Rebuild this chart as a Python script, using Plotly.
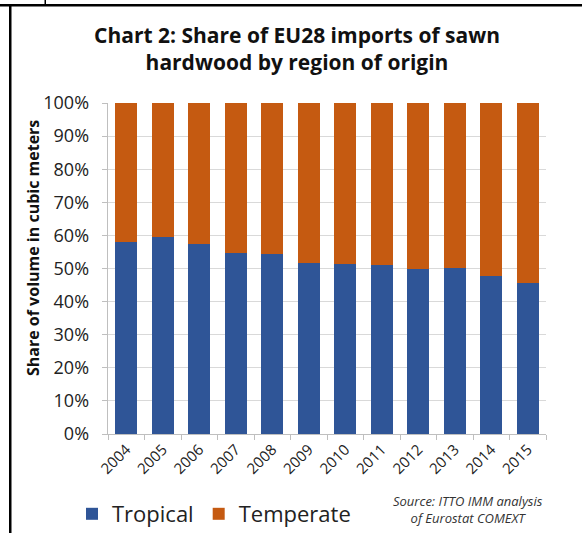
import plotly.graph_objects as go

years = ["2004", "2005", "2006", "2007", "2008", "2009", "2010", "2011", "2012", "2013", "2014", "2015"]
tropical = [58.0, 59.4, 57.5, 54.6, 54.4, 51.8, 51.5, 51.0, 49.8, 50.2, 47.8, 45.6]
temperate = [round(100 - v, 1) for v in tropical]
y_ticks = [0, 10, 20, 30, 40, 50, 60, 70, 80, 90, 100]
y_tick_text = [f"{v}%" for v in y_ticks]

FONT = "Open Sans"
BLUE = "#2F5597"
ORANGE = "#C55A11"
PAD = "\u00a0\u00a0"

fig = go.Figure()
fig.add_trace(go.Bar(x=years, y=tropical, name="Tropical", marker=dict(color=BLUE, line=dict(width=0))))
fig.add_trace(go.Bar(x=years, y=temperate, name="Temperate", marker=dict(color=ORANGE, line=dict(width=0))))

W, H = 582, 533
L, R, T, B = 108, 36, 103, 99
PW, PH = W - L - R, H - T - B

fig.update_layout(
    width=W, height=H,
    barmode="stack", bargap=0.4,
    plot_bgcolor="white", paper_bgcolor="white",
    margin=dict(l=L, r=R, t=T, b=B, autoexpand=False),
    font=dict(family=FONT, color="#222222"),
    title=dict(
        text="<b>Chart 2: Share of EU28 imports of sawn<br>hardwood by region of origin</b>",
        x=297 / W, xanchor="center", xref="container",
        y=1 - 43 / H, yanchor="top", yref="container",
        font=dict(family=FONT, size=21, color="#111111"),
    ),
    legend=dict(
        orientation="h", xref="container", yref="container",
        x=72 / W, xanchor="left", y=1 - 514 / H, yanchor="middle",
        font=dict(family=FONT, size=22, color="#222222"),
        itemwidth=30, traceorder="normal",
    ),
    showlegend=True,
)
fig.update_xaxes(
    type="category", tickangle=-45, ticks="outside", tickson="boundaries",
    ticklen=5, tickcolor="#BFBFBF", showline=True, linecolor="#BFBFBF", linewidth=1,
    tickfont=dict(family=FONT, size=15, color="#222222"), showgrid=False,
)
fig.update_yaxes(
    range=[0, 100], tickvals=y_ticks, ticktext=[t + PAD for t in y_tick_text],
    ticks="outside", ticklen=5, tickcolor="#BFBFBF",
    showline=True, linecolor="#BFBFBF", linewidth=1,
    gridcolor="#D9D9D9", gridwidth=1,
    tickfont=dict(family=FONT, size=18, color="#222222"),
)

fig.add_annotation(
    text="<b>Share of volume in cubic meters</b>", textangle=-90,
    xref="paper", yref="paper", x=-(L - 33) / PW, y=(434 - 248) / PH,
    xanchor="center", yanchor="middle", showarrow=False,
    font=dict(family=FONT, size=16, color="#111111"),
)
fig.add_annotation(
    text="<i>Source: ITTO IMM analysis<br>of Eurostat COMEXT</i>",
    xref="paper", yref="paper", x=(545 - L) / PW, y=-(490 - 434) / PH,
    xanchor="right", yanchor="top", align="center", showarrow=False,
    font=dict(family=FONT, size=13, color="#333333"),
)

# frame lines
def px_x(x):
    return (x - L) / PW

def px_y(y):
    return (434 - y) / PH

fig.add_shape(type="rect", xref="paper", yref="paper", layer="above",
              x0=px_x(0), x1=px_x(W), y0=px_y(6.5), y1=px_y(4),
              fillcolor="black", line=dict(width=0))
fig.add_shape(type="rect", xref="paper", yref="paper", layer="above",
              x0=px_x(9), x1=px_x(11.5), y0=px_y(H), y1=px_y(4),
              fillcolor="black", line=dict(width=0))
fig.add_shape(type="rect", xref="paper", yref="paper", layer="above",
              x0=px_x(44.5), x1=px_x(46), y0=px_y(5), y1=px_y(0),
              fillcolor="black", line=dict(width=0))

fig.write_html("out.html", config={"displayModeBar": False},
               post_script="document.body.style.margin='0';")
